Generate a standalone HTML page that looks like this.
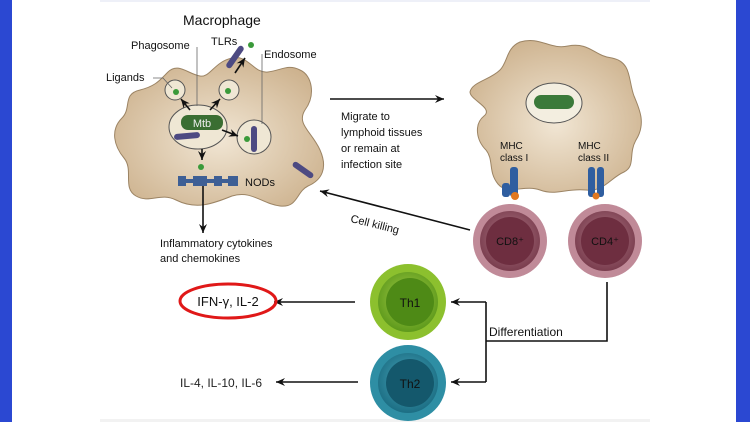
<!DOCTYPE html>
<html><head><style>
body{margin:0;width:750px;height:422px;overflow:hidden;background:#fff}
svg{display:block}
text{font-family:"Liberation Sans",sans-serif}
</style></head><body>
<svg width="750" height="422" viewBox="0 0 750 422">
<defs>
<radialGradient id="tan" cx="50%" cy="55%" r="60%"><stop offset="0" stop-color="#f1e6d4"/><stop offset="1" stop-color="#cdb28e"/></radialGradient>
<radialGradient id="red" cx="50%" cy="45%" r="55%"><stop offset="0" stop-color="#b07a88"/><stop offset="1" stop-color="#7a3d4e"/></radialGradient>
<radialGradient id="grn" cx="50%" cy="45%" r="55%"><stop offset="0" stop-color="#a8cf4a"/><stop offset="1" stop-color="#5e9a1c"/></radialGradient>
<radialGradient id="teal" cx="50%" cy="45%" r="55%"><stop offset="0" stop-color="#4aa8bc"/><stop offset="1" stop-color="#1c6e84"/></radialGradient>
<marker id="ah" markerWidth="10" markerHeight="10" refX="9" refY="5" orient="auto" markerUnits="userSpaceOnUse"><path d="M0,1 L9,5 L0,9 L3,5 Z" fill="#111"/></marker>
</defs>
<rect x="0" y="0" width="12" height="422" fill="#2b48d2"/>
<rect x="736" y="0" width="14" height="422" fill="#2b48d2"/>
<rect x="100" y="0" width="550" height="2" fill="#eef0f8"/>
<rect x="100" y="419" width="550" height="3" fill="#f2f2f2"/>

<!-- macrophage blob -->
<path d="M300,70 C312,75 316,95 305,110 C296,124 312,132 320,150 C328,168 322,180 308,186 C296,192 298,208 280,206 C262,204 252,190 232,196 C212,204 196,210 176,200 C160,192 150,204 136,196 C122,188 134,170 124,158 C114,146 110,130 122,118 C132,108 122,94 140,90 C156,86 160,80 168,72 C178,62 188,74 200,76 C210,78 214,62 232,58 C248,54 254,74 268,72 C282,70 288,64 300,70 Z" fill="url(#tan)" stroke="#9c8464" stroke-width="1"/>
<!-- dendritic blob -->
<path d="M520,42 C540,36 550,50 568,46 C590,42 594,56 612,58 C632,62 628,80 634,96 C640,110 646,124 636,140 C628,154 636,166 624,172 C610,178 604,192 586,190 C566,188 556,196 540,190 C524,184 508,196 498,184 C488,172 494,160 486,150 C476,140 474,124 484,116 C494,108 470,100 470,92 C472,82 490,80 500,70 C508,62 506,48 520,42 Z" fill="url(#tan)" stroke="#9c8464" stroke-width="1"/>
<ellipse cx="554" cy="103" rx="28" ry="20" fill="#f3eee0" stroke="#555" stroke-width="1"/>
<rect x="534" y="95" width="40" height="14" rx="7" fill="#3b7a3a"/>

<!-- macrophage internals -->
<ellipse cx="198" cy="127" rx="29" ry="22" fill="#efe7d4" stroke="#555"/>
<rect x="181" y="115" width="42" height="15" rx="7" fill="#3a6e32"/>
<text x="202" y="127" font-size="11" fill="#eee" text-anchor="middle">Mtb</text>
<rect x="174" y="133" width="26" height="6" rx="3" fill="#4d4a82" transform="rotate(-5 187 136)"/>
<circle cx="175" cy="90" r="10" fill="#efe7d4" stroke="#555"/><circle cx="176" cy="92" r="3" fill="#3a9a3a"/>
<circle cx="229" cy="90" r="10" fill="#efe7d4" stroke="#555"/><circle cx="228" cy="91" r="3" fill="#3a9a3a"/>
<circle cx="254" cy="137" r="17" fill="#efe7d4" stroke="#555"/>
<rect x="251" y="126" width="6" height="26" rx="3" fill="#4d4a82"/><circle cx="247" cy="139" r="3" fill="#3a9a3a"/>
<rect x="232" y="44" width="6" height="26" rx="3" fill="#4d4a82" transform="rotate(35 235 57)"/><circle cx="251" cy="45" r="3" fill="#3a9a3a"/>
<rect x="300" y="158" width="6" height="24" rx="3" fill="#4d4a82" transform="rotate(-55 303 170)"/>
<circle cx="201" cy="167" r="3" fill="#3a9a3a"/>
<rect x="178" y="179" width="60" height="4" fill="#3e5f95"/>
<rect x="178" y="176" width="8" height="10" fill="#3e5f95"/><rect x="193" y="176" width="14" height="10" fill="#3e5f95"/><rect x="214" y="176" width="8" height="10" fill="#3e5f95"/><rect x="228" y="176" width="10" height="10" fill="#3e5f95"/>
<g stroke="#111" stroke-width="1.6" fill="none" marker-end="url(#ah)">
<line x1="190" y1="110" x2="181" y2="99"/><line x1="210" y1="110" x2="220" y2="99"/>
<line x1="235" y1="73" x2="245" y2="58"/><line x1="222" y1="130" x2="238" y2="136"/>
<line x1="202" y1="149" x2="202" y2="160"/><line x1="203" y1="186" x2="203" y2="233"/>
</g>
<g stroke="#666" stroke-width="0.8" fill="none">
<line x1="197" y1="47" x2="197" y2="106"/><line x1="262" y1="54" x2="262" y2="124"/>
<polyline points="153,78 163,78 172,88"/>
</g>
<text x="183" y="25" font-size="14" fill="#111">Macrophage</text>
<text x="131" y="49" font-size="11" fill="#111">Phagosome</text>
<text x="211" y="45" font-size="11" fill="#111">TLRs</text>
<text x="264" y="58" font-size="11" fill="#111">Endosome</text>
<text x="106" y="81" font-size="11" fill="#111">Ligands</text>
<text x="245" y="186" font-size="11" fill="#111">NODs</text>
<text x="160" y="247" font-size="11" fill="#111">Inflammatory cytokines</text>
<text x="160" y="262" font-size="11" fill="#111">and chemokines</text>

<!-- migrate -->
<line x1="330" y1="99" x2="444" y2="99" stroke="#111" stroke-width="1.6" marker-end="url(#ah)"/>
<text font-size="11" fill="#111"><tspan x="341" y="120">Migrate to</tspan><tspan x="341" y="136">lymphoid tissues</tspan><tspan x="341" y="152">or remain at</tspan><tspan x="341" y="168">infection site</tspan></text>
<line x1="470" y1="230" x2="320" y2="191" stroke="#111" stroke-width="1.6" marker-end="url(#ah)"/>
<text x="350" y="228" font-size="11" fill="#111" transform="rotate(14 375 225)">Cell killing</text>

<text x="500" y="149" font-size="10" fill="#111">MHC</text><text x="500" y="161" font-size="10" fill="#111">class I</text>
<text x="578" y="149" font-size="10" fill="#111">MHC</text><text x="578" y="161" font-size="10" fill="#111">class II</text>
<rect x="510" y="167" width="8" height="30" rx="3" fill="#2f5ea0"/><rect x="502" y="183" width="8" height="14" rx="3" fill="#2f5ea0"/><circle cx="515" cy="196" r="4" fill="#e07820"/>
<rect x="588" y="167" width="7" height="30" rx="3" fill="#2f5ea0"/><rect x="597" y="167" width="7" height="30" rx="3" fill="#2f5ea0"/><circle cx="596" cy="196" r="3.5" fill="#e07820"/>

<circle cx="510" cy="241" r="37" fill="#c08a98"/><circle cx="510" cy="241" r="30" fill="url(#red)"/><circle cx="510" cy="241" r="24" fill="#6e2e40"/>
<text x="510" y="245" font-size="11" fill="#111" text-anchor="middle">CD8⁺</text>
<circle cx="605" cy="241" r="37" fill="#c08a98"/><circle cx="605" cy="241" r="30" fill="url(#red)"/><circle cx="605" cy="241" r="24" fill="#6e2e40"/>
<text x="605" y="245" font-size="11" fill="#111" text-anchor="middle">CD4⁺</text>

<circle cx="408" cy="302" r="38" fill="#8cc02e"/><circle cx="408" cy="302" r="30" fill="url(#grn)"/><circle cx="410" cy="302" r="24" fill="#4e8a16"/>
<text x="410" y="307" font-size="12" fill="#111" text-anchor="middle">Th1</text>
<circle cx="408" cy="383" r="38" fill="#2e8ea4"/><circle cx="408" cy="383" r="30" fill="url(#teal)"/><circle cx="410" cy="383" r="24" fill="#14586c"/>
<text x="410" y="388" font-size="12" fill="#111" text-anchor="middle">Th2</text>

<g stroke="#111" stroke-width="1.6" fill="none">
<polyline points="607,282 607,341 486,341"/>
<line x1="486" y1="302" x2="486" y2="382"/>
<line x1="486" y1="302" x2="451" y2="302" marker-end="url(#ah)"/>
<line x1="486" y1="382" x2="451" y2="382" marker-end="url(#ah)"/>
<line x1="355" y1="302" x2="274" y2="302" marker-end="url(#ah)"/>
<line x1="358" y1="382" x2="276" y2="382" marker-end="url(#ah)"/>
</g>
<text x="489" y="336" font-size="12" fill="#111">Differentiation</text>
<ellipse cx="228" cy="301" rx="48" ry="17" fill="none" stroke="#e01818" stroke-width="3"/>
<text x="228" y="306" font-size="13" fill="#111" text-anchor="middle">IFN-γ, IL-2</text>
<text x="180" y="387" font-size="12" fill="#222">IL-4, IL-10, IL-6</text>
</svg>
</body></html>
